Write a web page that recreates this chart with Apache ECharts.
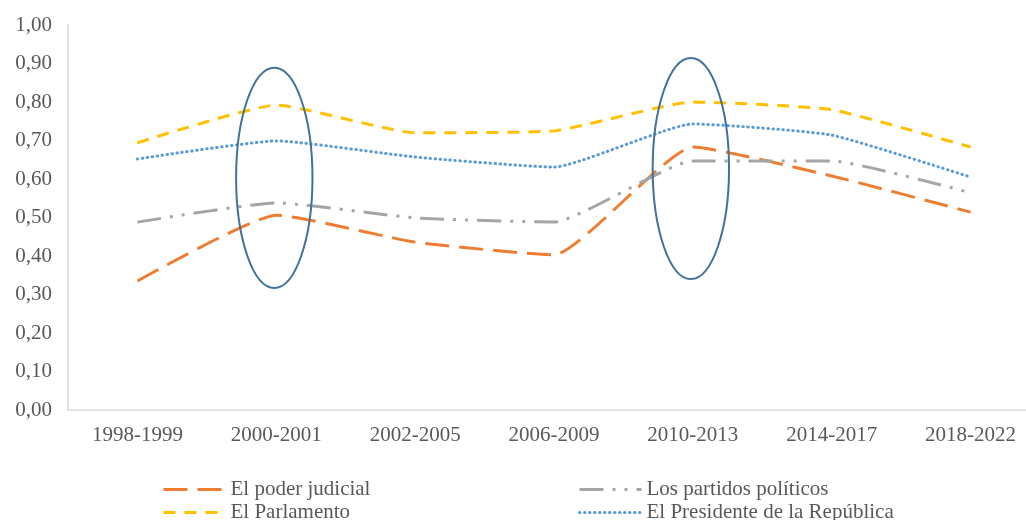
<!DOCTYPE html>
<html>
<head>
<meta charset="utf-8">
<script src="https://cdn.jsdelivr.net/npm/echarts@6/dist/echarts.min.js"></script>
<style>
  html, body { margin: 0; padding: 0; background: #fff; }
  #chart { width: 1026px; height: 520px; }
</style>
</head>
<body>
<div id="chart"></div>
<script>
// periods on the x axis
var categories = ["1998-1999", "2000-2001", "2002-2005", "2006-2009", "2010-2013", "2014-2017", "2018-2022"];

// series values
var judicial = [0.335, 0.506, 0.436, 0.403, 0.683, 0.608, 0.514];
var partidos = [0.488, 0.538, 0.499, 0.488, 0.647, 0.647, 0.564];
var parlamento = [0.694, 0.792, 0.72, 0.725, 0.80, 0.78, 0.683];
var presidente = [0.652, 0.699, 0.657, 0.631, 0.743, 0.714, 0.605];

var seriesNames = ["El poder judicial", "Los partidos políticos", "El Parlamento", "El Presidente de la República"];

// y ticks
var yMin = 0;
var yMax = 1;
var yStep = 0.1;

// highlight ellipses: category index, centre value, half height (value units)
var ellipseCats = [1, 4];
var ellipseCentres = [0.603, 0.627];
var ellipseHalfHeights = [0.286, 0.287];

var FONT = "Liberation Serif";
var TEXT = "#595959";

var chart = echarts.init(document.getElementById("chart"));

function lineSeries(name, data, color, dash, width, cap) {
  return {
    name: name,
    type: "line",
    data: data,
    smooth: 0.15,
    symbol: "none",
    showSymbol: false,
    itemStyle: { color: color },
    lineStyle: { color: color, width: width, type: dash, cap: cap || "butt" },
    z: 3,
  };
}

function legendAt(name, left, top) {
  return {
    data: [name],
    left: left,
    top: top,
    itemWidth: 62,
    itemHeight: 14,
    itemStyle: { opacity: 0 }, // line only, no marker
    lineStyle: { width: 3 },
    textStyle: { fontFamily: FONT, fontSize: 21, color: TEXT },
    selectedMode: false,
  };
}

var option = {
  animation: false,
  grid: {
    // plot runs a little past the right edge, like the source
    left: 68,
    top: 25,
    width: 972,
    height: 385,
    outerBoundsMode: "none",
    containLabel: false,
  },
  legend: [
    legendAt(seriesNames[0], 157, 474),
    legendAt(seriesNames[1], 573, 474),
    legendAt(seriesNames[2], 157, 497),
    legendAt(seriesNames[3], 573, 497),
  ],
  xAxis: {
    type: "category",
    data: categories,
    boundaryGap: true,
    axisLine: { show: true, lineStyle: { color: "#d9d9d9", width: 1.5 } },
    axisTick: { show: false },
    axisLabel: { fontFamily: FONT, fontSize: 21, color: TEXT, margin: 15 },
  },
  yAxis: {
    type: "value",
    min: yMin,
    max: yMax,
    interval: yStep,
    axisLine: { show: true, lineStyle: { color: "#d9d9d9", width: 1.5 } },
    axisTick: { show: false },
    splitLine: { show: false },
    axisLabel: {
      fontFamily: FONT,
      fontSize: 21,
      color: TEXT,
      margin: 16,
      formatter: function (v) {
        return v.toFixed(2).replace(".", ",");
      },
    },
  },
  series: [
    lineSeries(seriesNames[0], judicial, "#ED7D31", [24, 10], 3),
    lineSeries(seriesNames[1], partidos, "#A5A5A5", [24, 9, 3, 9, 3, 9], 3),
    lineSeries(seriesNames[2], parlamento, "#FFC000", [12, 9], 3),
    lineSeries(seriesNames[3], presidente, "#5B9BD5", [0.5, 4.5], 3, "round"),
    {
      // the two blue ellipses drawn around highlighted periods
      type: "custom",
      silent: true,
      z: 4,
      data: ellipseCats.map(function (c, i) {
        return [c, ellipseCentres[i], ellipseHalfHeights[i]];
      }),
      renderItem: function (params, api) {
        var c = api.coord([api.value(0), api.value(1)]);
        var s = api.size([1, api.value(2)]);
        return {
          type: "ellipse",
          shape: { cx: c[0] - 2, cy: c[1], rx: s[0] * 0.275, ry: s[1] },
          style: { fill: "none", stroke: "#41719C", lineWidth: 2 },
        };
      },
    },
  ],
};

chart.setOption(option);
</script>
</body>
</html>
